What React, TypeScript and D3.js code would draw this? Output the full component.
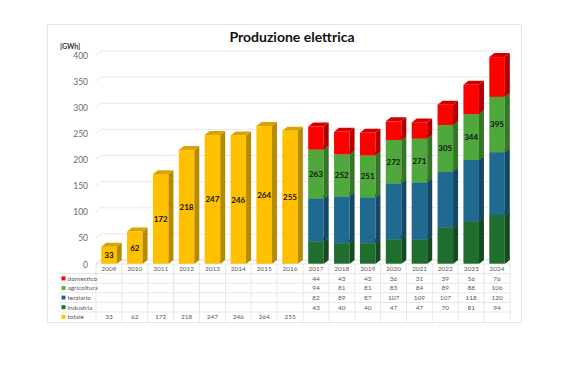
import * as d3 from 'd3';
import React from 'react';

const years = ['2009', '2010', '2011', '2012', '2013', '2014', '2015', '2016',
  '2017', '2018', '2019', '2020', '2021', '2022', '2023', '2024'];
const totale = [33, 62, 172, 218, 247, 246, 264, 255, null, null, null, null, null, null, null, null];
const domestico = [null, null, null, null, null, null, null, null, 44, 43, 43, 36, 31, 39, 56, 76];
const agricoltura = [null, null, null, null, null, null, null, null, 94, 81, 81, 83, 84, 89, 88, 106];
const terziario = [null, null, null, null, null, null, null, null, 82, 89, 87, 107, 109, 107, 118, 120];
const industria = [null, null, null, null, null, null, null, null, 43, 40, 40, 47, 47, 70, 81, 94];
const totalLabels = [33, 62, 172, 218, 247, 246, 264, 255, 263, 252, 251, 272, 271, 305, 344, 395];
const yTicks = [0, 50, 100, 150, 200, 250, 300, 350, 400];

// stack order bottom -> top
const stackSeries = [
  { key: 'industria', values: industria, front: '#1f6e2e', side: '#144a1f', top: '#195a26' },
  { key: 'terziario', values: terziario, front: '#1f6a90', side: '#144763', top: '#195a7a' },
  { key: 'agricoltura', values: agricoltura, front: '#4ea83b', side: '#347528', top: '#3f8d30' },
  { key: 'domestico', values: domestico, front: '#ff0000', side: '#b00000', top: '#d40000' },
];
const totaleColors = { front: '#ffc000', side: '#b88a00', top: '#d9a400' };

const tableRows = [
  { label: 'domestico', color: '#ff0000', values: domestico },
  { label: 'agricoltura', color: '#5fae3e', values: agricoltura },
  { label: 'terziario', color: '#1f6a90', values: terziario },
  { label: 'industria', color: '#1f6e2e', values: industria },
  { label: 'totale', color: '#ffc000', values: totale },
];

const DX = 5;
const DY = 4;
const font = 'Lato, "Open Sans", sans-serif';

function Box({ x, w, y0, y1, c }: { x: number; w: number; y0: number; y1: number; c: any }) {
  // y0 = bottom, y1 = top (pixels)
  return (
    <g>
      <rect x={x} y={y1} width={w} height={y0 - y1} fill={c.front} />
      <path d={`M${x + w},${y0}L${x + w + DX},${y0 - DY}L${x + w + DX},${y1 - DY}L${x + w},${y1}Z`} fill={c.side} />
      <path d={`M${x},${y1}L${x + w},${y1}L${x + w + DX},${y1 - DY}L${x + DX},${y1 - DY}Z`} fill={c.top} />
    </g>
  );
}

export default function App() {
  const x = d3.scaleBand().domain(years).range([96, 510]);
  const y = d3.scaleLinear().domain([0, 400]).range([264, 55]);
  const bw = x.bandwidth();
  const barW = bw * 0.6;
  const rowH = 9.6;
  const tableTop = 264;
  const rowY = (i: number) => tableTop + rowH * (i + 1);

  return (
    <div style={{ position: 'fixed', left: 0, top: 0 }}>
      <svg width={562} height={374} style={{ display: 'block', background: '#fff' }} fontFamily={font}>
        {/* frame */}
        <rect x={47.5} y={24.5} width={474} height={298} fill="#fff" stroke="#e6e6e6" />
        <text x={292} y={42} textAnchor="middle" fontSize={14} fontWeight="bold" fill="#111">Produzione elettrica</text>
        <text x={60} y={49} fontSize={7} fontWeight="bold" fill="#333">[GWh]</text>

        {/* gridlines */}
        {yTicks.map(t => (
          <path key={t}
            d={`M96,${y(t)}L${96 + DX},${y(t) - DY}L510,${y(t) - DY}`}
            fill="none" stroke={t === 0 ? '#d0d0d0' : '#e2e2e2'} strokeWidth={0.8} />
        ))}
        {yTicks.map(t => (
          <text key={'l' + t} x={88} y={y(t) + 3.5} textAnchor="end" fontSize={8.5} fill="#6a6a6a">{t}</text>
        ))}

        {/* bars */}
        {years.map((yr, i) => {
          const bx = (x(yr) as number) + (bw - barW) / 2;
          if (totale[i] != null) {
            const v = totale[i] as number;
            return (
              <g key={yr}>
                <Box x={bx} w={barW} y0={y(0)} y1={y(v)} c={totaleColors} />
                <text x={bx + barW / 2} y={(y(0) + y(v)) / 2 + 3} textAnchor="middle" fontSize={8} fontWeight="bold" fill="#111">{totalLabels[i]}</text>
              </g>
            );
          }
          let acc = 0;
          let labelY = 0;
          const boxes = stackSeries.map(s => {
            const v = s.values[i] as number;
            const b0 = acc;
            acc += v;
            if (s.key === 'agricoltura') labelY = (y(b0) + y(acc)) / 2;
            return <Box key={s.key} x={bx} w={barW} y0={y(b0)} y1={y(acc)} c={s} />;
          });
          return (
            <g key={yr}>
              {boxes}
              <text x={bx + barW / 2} y={labelY + 3} textAnchor="middle" fontSize={8} fontWeight="bold" fill="#111">{totalLabels[i]}</text>
            </g>
          );
        })}

        {/* data table */}
        <g stroke="#dcdcdc" strokeWidth={0.7}>
          <line x1={96} x2={510} y1={tableTop} y2={tableTop} />
          {tableRows.map((r, i) => (
            <line key={r.label} x1={59} x2={510} y1={rowY(i)} y2={rowY(i)} />
          ))}
          {years.map(yr => (
            <line key={yr} x1={x(yr) as number} x2={x(yr) as number} y1={tableTop} y2={rowY(5)} />
          ))}
          <line x1={510} x2={510} y1={tableTop} y2={rowY(5)} />
        </g>
        {years.map(yr => (
          <text key={yr} x={(x(yr) as number) + bw / 2} y={tableTop + rowH / 2 + 2.3} textAnchor="middle" fontSize={6.5} fill="#595959">{yr}</text>
        ))}
        {tableRows.map((r, i) => (
          <g key={r.label}>
            <rect x={61.5} y={rowY(i) + rowH / 2 - 2} width={4} height={4} fill={r.color} />
            <text x={67.5} y={rowY(i) + rowH / 2 + 2.3} fontSize={6.5} fill="#595959">{r.label}</text>
            {r.values.map((v, j) => v == null ? null : (
              <text key={j} x={(x(years[j]) as number) + bw / 2} y={rowY(i) + rowH / 2 + 2.3} textAnchor="middle" fontSize={6.5} fill="#595959">{v}</text>
            ))}
          </g>
        ))}
      </svg>
    </div>
  );
}
